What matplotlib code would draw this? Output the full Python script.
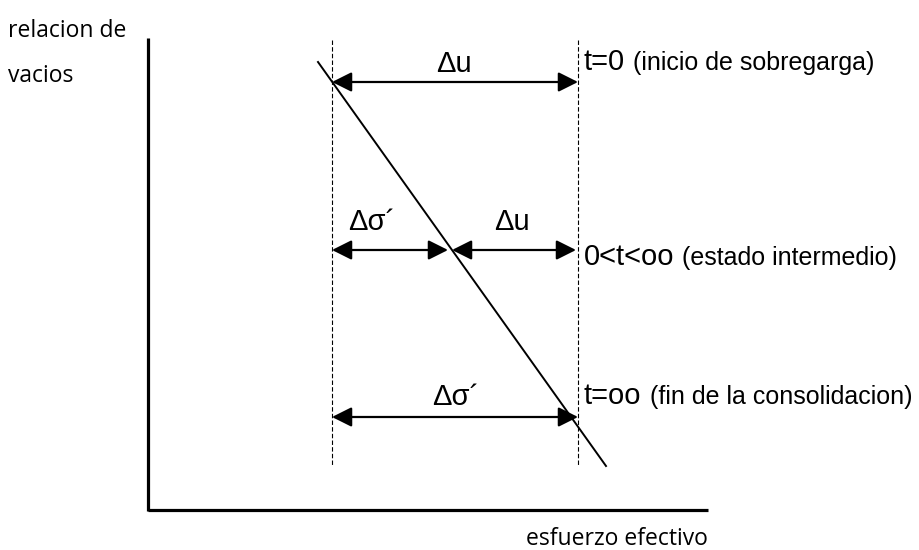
import matplotlib
matplotlib.use("Agg")
import matplotlib.pyplot as plt

# esquema de consolidacion: relacion de vacios vs esfuerzo efectivo
# coordenadas del esquema (unidades de dibujo, y hacia abajo)
ejes_x = [148, 708]
ejes_y = [38, 511]
sigma_lim = [332, 578]          # esfuerzo inicial y final
linea_x = [318, 606]
linea_y = [62, 466]
niveles = [82, 250, 417]        # t=0, 0<t<oo, t=oo
cruce_medio = 450               # punto de la recta en el estado intermedio
etiquetas_t = ["t=0", "0<t<oo", "t=oo"]
etiquetas_desc = ["(inicio de sobregarga)", "(estado intermedio)", "(fin de la consolidacion)"]
y_etiquetas_t = [62, 257, 396]

fig = plt.figure(figsize=(9.19, 5.5), dpi=100)
ax = fig.add_axes([0, 0, 1, 1])
ax.set_xlim(0, 919)
ax.set_ylim(550, 0)
ax.axis("off")

arial = "Liberation Sans"
calibri = "Open Sans"

# ejes
ax.plot([ejes_x[0], ejes_x[0]], [ejes_y[0], ejes_y[1]], color="black", lw=2.3, solid_capstyle="butt")
ax.plot([ejes_x[0], ejes_x[1]], [ejes_y[1] - 1, ejes_y[1] - 1], color="black", lw=2.3, solid_capstyle="butt")

# lineas verticales discontinuas
for xs in sigma_lim:
    ax.plot([xs, xs], [40, 466], color="black", lw=0.8, linestyle=(0, (4, 2)))

# recta de compresion
ax.plot(linea_x, linea_y, color="black", lw=1.4)

flecha = dict(arrowstyle="<|-|>,head_length=0.6,head_width=0.3", color="black",
              lw=1.6, shrinkA=0, shrinkB=0, mutation_scale=20)

def cota(x0, x1, y):
    ax.annotate("", xy=(x1, y), xytext=(x0, y), arrowprops=flecha)

cota(sigma_lim[0], sigma_lim[1], niveles[0])
cota(sigma_lim[0], cruce_medio - 2, niveles[1])
cota(cruce_medio + 2, sigma_lim[1] - 2, niveles[1])
cota(sigma_lim[0], sigma_lim[1], niveles[2])

# textos de las cotas
ax.text(454, 64, "Δu", fontsize=21, family=arial, ha="center", va="center")
ax.text(372, 222, "Δσ´", fontsize=21, family=arial, ha="center", va="center")
ax.text(512, 222, "Δu", fontsize=21, family=arial, ha="center", va="center")
ax.text(456, 397, "Δσ´", fontsize=21, family=arial, ha="center", va="center")

# estados en el tiempo
for yt, lt, ld in zip(y_etiquetas_t, etiquetas_t, etiquetas_desc):
    t = ax.text(584, yt, lt, fontsize=21, family=arial, ha="left", va="center")
    fig.canvas.draw()
    bb = t.get_window_extent()
    x_end = ax.transData.inverted().transform((bb.x1, 0))[0]
    ax.text(x_end + 8, yt + 1, ld, fontsize=18, family=arial, ha="left", va="center")

# rotulos de ejes
ax.text(8, 37, "relacion de", fontsize=16.5, family=calibri, ha="left", va="baseline")
ax.text(8, 82, "vacios", fontsize=16.5, family=calibri, ha="left", va="baseline")
ax.text(708, 545, "esfuerzo efectivo", fontsize=16.5, family=calibri, ha="right", va="baseline")

fig.savefig("out.png", dpi=100, facecolor="white")
